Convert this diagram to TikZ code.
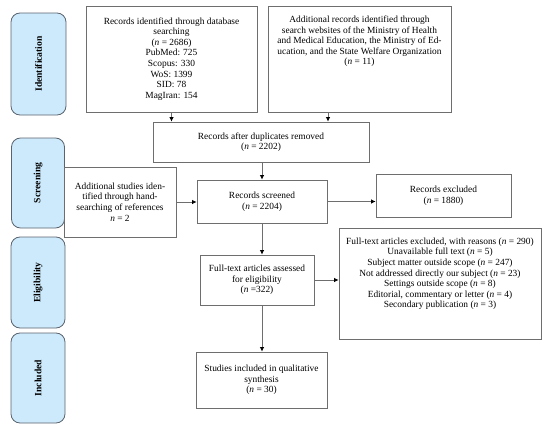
\documentclass[tikz,border=0pt]{standalone}
\usepackage{fontspec}
\setmainfont{Liberation Serif}
\usetikzlibrary{arrows.meta,calc}
\definecolor{boxline}{RGB}{110,110,110}
\definecolor{phasefill}{RGB}{205,234,252}
\definecolor{phaseline}{RGB}{90,100,110}
\newcommand{\nn}{\textit{n}}
\begin{document}
\begin{tikzpicture}[x=1pt,y=-1pt,
  every node/.style={font=\fontsize{9.4}{10.6}\selectfont},
  box/.style={draw=boxline,line width=0.8pt,align=center,inner sep=2pt},
  phase/.style={draw=phaseline,fill=phasefill,line width=0.8pt,rounded corners=9pt},
  phasetxt/.style={rotate=90,font=\fontsize{9.6}{10}\selectfont\bfseries},
  conn/.style={draw=boxline,line width=0.8pt,-{Latex[length=4.5pt,width=4.5pt,black]}},
  txt/.style={align=center,inner sep=0pt}]
\useasboundingbox (0,0) rectangle (550,431);
% phases
\node[phase,minimum width=55pt,minimum height=102pt] (p1) at (38.5,64) {};
\node[phasetxt] at (p1) {Identification};
\node[phase,minimum width=53pt,minimum height=90pt] (p2) at (38,183) {};
\node[phasetxt] at (p2) {Screening};
\node[phase,minimum width=54pt,minimum height=91pt] (p3) at (38,282.5) {};
\node[phasetxt] at (p3) {Eligibility};
\node[phase,minimum width=54pt,minimum height=90pt] (p4) at (38,378) {};
\node[phasetxt] at (p4) {Included};
% boxes
\node[box,minimum width=171pt,minimum height=106pt] (b1) at (171.5,59) {Records identified through database\\searching\\(\nn{} = 2686)\\PubMed: 725\\Scopus: 330\\WoS: 1399\\SID: 78\\MagIran: 154};
\node[box,minimum width=183pt,minimum height=106pt] (b2) at (359.5,59) {};
\node[txt,anchor=north] (t2) at ([yshift=-10pt]b2.north) {Additional records identified through\\search websites of the Ministry of Health\\and Medical Education, the Ministry of Ed-\\ucation, and the State Welfare Organization\\(\nn{} = 11)};
\node[box,minimum width=216pt,minimum height=40pt] (b3) at (261,142) {Records after duplicates removed\\(\nn{} = 2202)};
\node[box,minimum width=130pt,minimum height=43pt] (b4) at (262,201.5) {Records screened\\(\nn{} = 2204)};
\node[box,minimum width=112pt,minimum height=70pt] (ad) at (120,202) {Additional studies iden-\\tified through hand-\\searching of references\\\nn{} = 2};
\node[box,minimum width=135pt,minimum height=43pt] (ex) at (443.5,195.5) {Records excluded\\(\nn{} = 1880)};
\node[box,minimum width=202pt,minimum height=111pt] (rs) at (440,283.5) {};
\node[txt,anchor=north] (trs) at ([yshift=-10pt]rs.north) {Full-text articles excluded, with reasons (\nn{} = 290)\\Unavailable full text (\nn{} = 5)\\Subject matter outside scope (\nn{} = 247)\\Not addressed directly our subject (\nn{} = 23)\\Settings outside scope (\nn{} = 8)\\Editorial, commentary or letter (\nn{} = 4)\\Secondary publication (\nn{} = 3)};
\node[box,minimum width=114pt,minimum height=50pt] (b5) at (257,280) {Full-text articles assessed\\for eligibility\\(\nn{} =322)};
\node[box,minimum width=131pt,minimum height=56pt] (b6) at (261.5,380) {Studies included in qualitative\\synthesis\\(\nn{} = 30)};
% connectors
\draw[conn] (b1.south) -- (b1.south |- b3.north);
\draw[conn] ([xshift=-31.5pt]b2.south) -- ([xshift=-31.5pt]b2.south |- b3.north);
\draw[conn] (b4.south |- b3.south) -- (b4.north);
\draw[conn] (ad.east) -- (ad.east -| b4.west);
\draw[conn] (b4.east) -- (b4.east -| ex.west);
\draw[conn] (b4.south) -- (b4.south |- b5.north);
\draw[conn] (b5.east) -- (b5.east -| rs.west);
\draw[conn] (b4.south |- b5.south) -- (b4.south |- b6.north);
\end{tikzpicture}
\end{document}
